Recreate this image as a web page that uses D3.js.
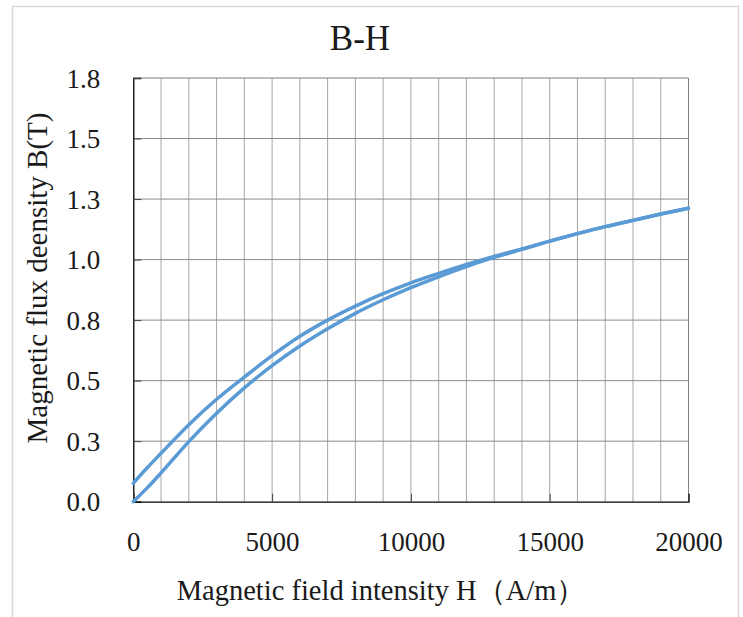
<!DOCTYPE html>
<html>

<head>
    <meta charset="utf-8">
    <script src="https://d3js.org/d3.v7.min.js"></script>
    <style>
        body { margin: 0; background: #fff; }
        svg text { font-family: "Liberation Serif", "Times New Roman", "DejaVu Serif", serif; fill: #1a1a1a; }
    </style>
</head>

<body>
    <svg id="svg"></svg>
</body>

</html>

<script type="text/javascript">
    // H in A/m, B in T
    const hValues = [0, 500, 1000, 2000, 3000, 4000, 5000, 6000, 7000, 8000, 9000, 10000,
        11000, 12000, 13000, 14000, 15000, 16000, 17000, 18000, 19000, 20000];
    const bUpper = [0.076, 0.140, 0.200, 0.318, 0.423, 0.515, 0.603, 0.683, 0.750, 0.808, 0.859, 0.904,
        0.943, 0.980, 1.013, 1.044, 1.076, 1.107, 1.136, 1.162, 1.188, 1.212];
    const bLower = [0, 0.057, 0.119, 0.248, 0.365, 0.470, 0.562, 0.643, 0.714, 0.778, 0.834, 0.884,
        0.929, 0.971, 1.009, 1.042, 1.076, 1.107, 1.136, 1.162, 1.188, 1.212];

    const yTicks = [0, 0.25, 0.5, 0.75, 1.0, 1.25, 1.5, 1.75];
    const xTicks = [0, 5000, 10000, 15000, 20000];
    const xGrid = d3.range(0, 20001, 1000);

    const title = "B-H";
    const xTitle = "Magnetic field intensity H（A/m）";
    const yTitle = "Magnetic flux deensity B(T)";

    const serif = "'Liberation Serif', 'Times New Roman', 'DejaVu Serif', serif";
    const width = 743, height = 617;
    const plotLeft = 133.3, plotRight = 688.5, plotTop = 78, plotBottom = 501.7;

    const svg = d3.select("#svg")
        .attr("width", width)
        .attr("height", height);

    // chart border
    svg.append("rect")
        .attr("x", 12.5).attr("y", 6.5)
        .attr("width", 726).attr("height", 630)
        .attr("fill", "none")
        .attr("stroke", "#d9d9d9")
        .attr("stroke-width", 1.5);

    const x = d3.scaleLinear().domain([0, 20000]).range([plotLeft, plotRight]);
    const y = d3.scaleLinear().domain([0, 1.75]).range([plotBottom, plotTop]);

    // grid
    svg.append("g").selectAll("line")
        .data(xGrid.slice(1))
        .enter().append("line")
        .attr("x1", d => x(d)).attr("x2", d => x(d))
        .attr("y1", plotTop).attr("y2", plotBottom)
        .attr("stroke", d => d === 20000 ? "#7f7f7f" : "#a6a6a6")
        .attr("stroke-width", 1);

    svg.append("g").selectAll("line")
        .data(yTicks.slice(1))
        .enter().append("line")
        .attr("x1", plotLeft).attr("x2", plotRight)
        .attr("y1", d => y(d)).attr("y2", d => y(d))
        .attr("stroke", d => d === 1.75 ? "#7f7f7f" : "#8c8c8c")
        .attr("stroke-width", 1);

    // axes
    const fmt = d => d.toFixed(1);
    const yAxis = svg.append("g")
        .attr("transform", `translate(${plotLeft},0)`)
        .call(d3.axisLeft(y).tickValues(yTicks).tickSize(-8).tickPadding(33).tickFormat(fmt));
    const xAxis = svg.append("g")
        .attr("transform", `translate(0,${plotBottom})`)
        .call(d3.axisBottom(x).tickValues(xTicks).tickSize(-8).tickPadding(30).tickFormat(d3.format("d")));

    [xAxis, yAxis].forEach(a => {
        a.attr("font-family", serif);
        a.select(".domain").attr("stroke", "#000").attr("stroke-width", 1.3);
        a.selectAll(".tick line").attr("stroke", "#444");
        a.selectAll(".tick text")
            .attr("font-family", serif)
            .attr("font-size", 27)
            .attr("fill", "#1a1a1a");
    });
    yAxis.selectAll(".tick text").attr("dy", "0.34em");

    // curves
    const line = d3.line()
        .x((d, i) => x(hValues[i]))
        .y(d => y(d))
        .curve(d3.curveMonotoneX);

    [bLower, bUpper].forEach(series => {
        svg.append("path")
            .datum(series)
            .attr("d", line)
            .attr("fill", "none")
            .attr("stroke", "#5b9bd5")
            .attr("stroke-width", 3.5)
            .attr("stroke-linecap", "round");
    });

    // titles
    svg.append("text")
        .attr("x", 360).attr("y", 49.5)
        .attr("text-anchor", "middle")
        .attr("font-family", serif)
        .attr("font-size", 35)
        .text(title);

    svg.append("text")
        .attr("x", 381).attr("y", 600)
        .attr("text-anchor", "middle")
        .attr("font-family", serif)
        .attr("font-size", 28.5)
        .text(xTitle);

    svg.append("text")
        .attr("transform", "translate(47,278) rotate(-90)")
        .attr("text-anchor", "middle")
        .attr("font-family", serif)
        .attr("font-size", 29)
        .text(yTitle);
</script>
